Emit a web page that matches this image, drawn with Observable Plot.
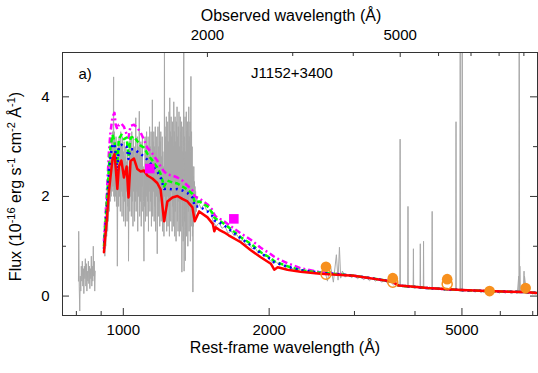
<!DOCTYPE html>
<html><head><meta charset="utf-8">
<script src="https://cdn.jsdelivr.net/npm/d3@7"></script>
<script src="https://cdn.jsdelivr.net/npm/@observablehq/plot@0.6"></script>
<style>body{margin:0;background:#fff} svg{display:block}</style>
</head><body><div id="chart"></div>
<script>
const redshift = 0.341;
const panelLabel = "a)";
const objectName = "J1152+3400";

const restMajorTicks = [1000, 2000, 5000];
const restMinorTicks = [800, 900, 3000, 4000, 6000, 7000];
const obsMajorTicks = [2000, 5000];
const obsMinorTicks = [3000, 4000, 6000, 7000, 8000, 9000];
const fluxMajorTicks = [0, 2, 4];
const fluxMinorTicks = [1, 3];

// model spectra (rest-frame wavelength grid, flux)
const modelWave = [912, 924, 934, 941, 950, 959, 964, 972, 979, 991, 1003, 1016, 1025, 1035, 1052, 1069, 1086, 1103, 1121, 1148, 1175, 1194, 1214, 1233, 1263, 1293, 1324, 1356, 1389, 1404, 1434, 1492, 1530, 1541, 1551, 1577, 1614, 1650, 1748, 1833, 1922, 2016, 2049, 2083, 2182, 2322, 2552, 2990, 3599, 3700, 3921, 4250, 4984, 5653, 6741, 7190];
const fluxRed = [0.88, 1.5, 2.1, 2.4, 2.75, 2.85, 2.6, 2.15, 2.6, 2.72, 2.38, 2.6, 1.98, 2.71, 2.76, 2.55, 2.5, 2.52, 2.42, 2.36, 2.27, 2.14, 1.5, 1.9, 1.98, 2.01, 1.95, 1.9, 1.78, 1.5, 1.7, 1.58, 1.45, 1.3, 1.38, 1.33, 1.28, 1.22, 1.08, 0.92, 0.78, 0.65, 0.53, 0.58, 0.53, 0.49, 0.45, 0.41, 0.29, 0.21, 0.19, 0.16, 0.12, 0.10, 0.08, 0.06];
const fluxGreen = [1.0, 1.85, 2.6, 3.0, 3.24, 3.1, 2.9, 2.65, 3.15, 3.24, 3.15, 3.18, 2.8, 3.18, 3.2, 3.11, 3.02, 2.98, 2.86, 2.72, 2.58, 2.45, 2.2, 2.32, 2.28, 2.26, 2.2, 2.14, 2.05, 1.88, 1.9, 1.8, 1.66, 1.58, 1.55, 1.52, 1.45, 1.38, 1.18, 1.05, 0.88, 0.76, 0.70, 0.67, 0.6, 0.52, 0.47, 0.41, 0.29, 0.21, 0.19, 0.16, 0.12, 0.10, 0.08, 0.06];
const fluxBlue = [0.95, 1.7, 2.45, 2.8, 3.05, 3.05, 2.85, 2.5, 3.0, 3.04, 3.0, 3.0, 2.75, 2.95, 2.95, 2.9, 2.85, 2.8, 2.74, 2.62, 2.5, 2.38, 2.15, 2.16, 2.14, 2.15, 2.12, 2.07, 1.98, 1.8, 1.8, 1.7, 1.6, 1.52, 1.5, 1.48, 1.42, 1.35, 1.16, 1.02, 0.86, 0.74, 0.68, 0.66, 0.59, 0.52, 0.47, 0.41, 0.29, 0.21, 0.19, 0.16, 0.12, 0.10, 0.08, 0.06];
const fluxMagenta = [1.1, 2.0, 2.9, 3.3, 3.6, 3.68, 3.45, 3.35, 3.44, 3.46, 3.4, 3.25, 3.18, 3.42, 3.44, 3.38, 3.28, 3.14, 2.98, 2.86, 2.72, 2.6, 2.5, 2.44, 2.42, 2.38, 2.32, 2.22, 2.12, 2.0, 1.96, 1.84, 1.72, 1.64, 1.6, 1.56, 1.5, 1.43, 1.26, 1.13, 0.97, 0.84, 0.79, 0.75, 0.66, 0.56, 0.48, 0.41, 0.29, 0.21, 0.19, 0.16, 0.12, 0.10, 0.08, 0.06];

// observed spectrum, far-UV piece
const spectrumFUV = [[808,0.3],[809,1.3],[811,0.2],[813,-0.3],[815,0.4],[817,0.1],[819,0.6],[821,0.3],[823,0.7],[825,0.2],[827,0.55],[829,0.05],[831,0.6],[833,0.35],[835,0.75],[837,0.2],[839,0.65],[841,0.1],[843,0.5],[845,0.3],[847,0.7],[849,0.25],[851,0.6],[853,0.15],[855,0.55],[857,0.35],[859,0.8],[861,0.2],[863,0.6],[865,0.3],[867,1.0],[869,0.4],[871,0.7],[873,0.1],[875,0.5]];
// observed spectrum, UV piece (noisy)
const spectrumUV = [
[912,0.9],[914,1.4],[916,0.8],[918,1.5],[920,1.0],[922,1.9],[924,1.2],[926,2.1],[928,1.3],[930,2.3],
[932,1.5],[934,2.6],[936,1.7],[938,2.8],[940,1.9],[942,3.0],[944,2.0],[946,3.2],[948,2.1],[950,3.3],
[952,2.2],[954,3.6],[955,4.4],[956,2.0],[958,3.3],[960,1.9],[962,3.1],[964,2.0],[966,3.2],[968,1.8],
[970,2.9],[972,0.6],[974,2.2],[976,3.1],[978,1.8],[980,3.2],[982,2.0],[984,3.0],[986,1.7],[988,3.3],
[990,2.1],[992,3.0],[994,1.6],[996,3.2],[998,2.0],[1000,2.9],[1002,1.5],[1004,3.1],[1006,1.9],[1008,2.8],
[1010,1.4],[1012,3.0],[1014,2.1],[1016,2.7],[1018,1.5],[1020,2.9],[1022,1.8],[1024,2.6],[1025,0.7],[1027,2.0],
[1029,3.1],[1031,1.7],[1033,3.2],[1035,2.0],[1037,3.0],[1039,1.6],[1041,3.3],[1043,1.9],[1045,2.9],[1047,1.4],
[1049,3.2],[1051,2.1],[1053,3.0],[1055,1.5],[1057,2.8],[1059,1.9],[1061,3.58],[1063,1.7],[1065,2.9],[1067,2.1],
[1069,3.2],[1071,1.3],[1073,3.0],[1075,2.0],[1077,2.7],[1079,3.71],[1081,1.6],[1083,2.9],[1085,1.9],[1087,3.1],
[1089,1.4],[1091,2.8],[1093,2.2],[1095,3.2],[1097,1.7],[1099,2.6],[1101,1.9],[1103,0.7],[1105,2.5],[1107,1.8],
[1109,3.2],[1111,1.5],[1113,3.0],[1115,2.0],[1117,3.3],[1119,1.6],[1121,2.9],[1123,1.9],[1125,3.2],[1127,1.3],
[1129,2.8],[1131,2.1],[1133,3.4],[1135,1.7],[1137,3.0],[1139,1.9],[1141,3.3],[1143,1.4],[1145,2.7],[1147,2.0],
[1148,3.94],[1150,1.6],[1152,3.1],[1154,2.1],[1156,3.3],[1158,1.5],[1160,3.0],[1162,1.8],[1164,3.4],[1166,1.3],
[1168,2.9],[1170,2.0],[1172,3.2],[1174,1.5],[1175,0.85],[1177,2.6],[1179,3.4],[1181,1.6],[1183,3.0],[1185,1.9],
[1187,3.5],[1189,1.4],[1191,3.1],[1193,2.0],[1195,3.3],[1197,1.5],[1199,2.8],[1201,1.8],[1203,3.2],[1205,1.3],
[1207,2.9],[1209,1.6],[1211,2.6],[1213,1.2],[1215,3.0],[1216,6.0],[1217,2.0],[1219,3.4],[1221,1.5],[1223,3.2],
[1225,1.8],[1227,3.6],[1229,1.3],[1231,3.0],[1233,2.0],[1235,3.5],[1237,1.4],[1239,3.1],[1241,1.8],[1243,3.7],
[1245,1.2],[1247,3.98],[1249,1.9],[1251,3.3],[1253,1.5],[1255,3.6],[1257,2.1],[1259,3.2],[1261,1.3],[1263,3.5],
[1265,1.8],[1267,3.0],[1269,1.4],[1271,3.9],[1273,2.0],[1275,3.3],[1277,1.2],[1279,3.6],[1281,1.7],[1283,3.1],
[1285,1.1],[1287,3.5],[1289,2.0],[1291,3.8],[1293,1.5],[1295,3.2],[1297,1.3],[1299,3.4],[1301,1.9],[1303,3.7],
[1305,1.2],[1307,3.0],[1309,1.7],[1311,3.6],[1313,1.3],[1315,3.3],[1317,1.9],[1319,3.5],[1321,0.48],[1323,2.9],
[1325,1.4],[1327,3.4],[1329,1.1],[1331,3.0],[1333,6.0],[1335,0.5],[1337,3.2],[1339,1.5],[1341,3.6],[1343,0.71],
[1345,2.9],[1347,1.6],[1349,3.7],[1351,1.2],[1353,3.3],[1355,1.8],[1357,3.5],[1359,1.0],[1361,3.1],[1363,1.7],
[1365,3.8],[1367,1.3],[1369,3.2],[1371,2.0],[1373,3.5],[1375,1.1],[1377,2.9],[1379,4.41],[1381,1.4],[1383,3.3],
[1385,1.8],[1387,3.0],[1389,1.2],[1391,2.6],[1392,0.08],[1394,2.4],[1396,1.4],[1398,2.6],[1400,1.6],[1402,2.3],
[1404,1.5],[1406,2.2],[1408,1.6],[1410,2.1],[1412,1.7],[1414,2.0],[1416,1.7],[1418,2.0],[1420,1.8],[1422,1.9]];
// observed spectrum, near-UV and optical piece
const spectrumOpt = [[1422,1.9],
[1426,1.90],[1447,1.76],[1468,1.84],[1489,1.70],[1510,1.74],[1532,1.50],[1554,1.40],[1576,1.47],[1599,1.36],[1622,1.40],[1645,1.26],[1669,1.31],[1693,1.21],[1717,1.23],[1742,1.11],[1767,1.13],[1792,1.03],[1818,1.05],[1844,0.95],[1871,0.97],[1898,0.87],[1925,0.89],[1953,0.79],[1981,0.80],[2010,0.71],[2039,0.66],[2068,0.69],[2098,0.62],[2128,0.64],[2159,0.57],[2190,0.60],[2221,0.54],[2253,0.57],[2286,0.51],[2319,0.54],[2352,0.49],[2386,0.52],[2421,0.47],[2456,0.50],[2491,0.45],[2527,0.49],[2563,0.44],[2600,0.55],[2638,0.30],[2676,0.62],[2714,0.28],[2753,0.83],[2775,0.32],[2793,0.98],[2810,0.36],[2833,0.50],[2874,0.38],[2915,0.44],[2957,0.37],[3000,0.41],[3043,0.35],[3087,0.39],[3131,0.33],[3176,0.37],[3222,0.31],[3268,0.36],[3315,0.30],[3363,0.34],[3411,0.28],[3460,0.31],[3510,0.26],[3561,0.29],[3612,0.22],[3664,0.25],[3700,0.21],[3722,0.22],[3727,3.15],[3732,0.22],[3770,0.19],[3824,0.22],[3864,0.2],[3869,1.8],[3874,0.18],[3936,0.21],[3965,0.2],[3970,0.95],[3975,0.17],[4050,0.20],[4097,0.19],[4102,1.05],[4108,0.16],[4161,0.18],[4166,1.1],[4171,0.16],[4227,0.15],[4288,0.18],[4335,0.16],[4340,1.7],[4345,0.14],[4413,0.17],[4476,0.13],[4540,0.16],[4606,0.12],[4672,0.15],[4740,0.11],[4808,0.14],[4856,0.12],[4861,3.5],[4866,0.11],[4925,0.13],[4954,0.12],[4959,8],[4964,0.11],[5002,0.12],[5007,8],[5012,0.10],[5097,0.13],[5171,0.09],[5246,0.12],[5322,0.08],[5399,0.11],[5477,0.07],[5556,0.11],[5636,0.08],[5718,0.10],[5801,0.07],[5885,0.10],[5970,0.06],[6056,0.09],[6144,0.06],[6233,0.09],[6323,0.05],[6415,0.08],[6508,0.06],[6548,0.4],[6555,0.1],[6563,8],[6575,0.1],[6584,0.6],[6602,0.06],[6698,0.09],[6717,0.5],[6724,0.08],[6731,0.4],[6795,0.05],[6893,0.08],[6993,0.04],[7094,0.07],[7150,0.05]];

// photometry
const photWave = [2620, 3599, 4661, 5702, 6767];
const photFlux = [0.59, 0.36, 0.34, 0.10, 0.16];
const photOpenWave = [2620, 3599, 4661];
const photOpenFlux = [0.44, 0.28, 0.24];
const uvWave = [1134, 1691];
const uvFlux = [2.56, 1.55];

const W = 538, H = 373, ML = 62, MR = 1, MT = 52, MB = 58;
const PW = W - ML - MR, PH = H - MT - MB;
const FONT = "'Liberation Sans', Arial, Helvetica, sans-serif";

const model = (f) => modelWave.map((w, i) => ({w, f: f[i]}));
const pts = (ws, fs) => ws.map((w, i) => ({w, f: fs[i]}));
const orange = "#f7901e";
const gray = "#a8a8a8";
const lineOpts = {x: "w", y: "f", strokeWidth: 2.5, strokeLinecap: "butt", strokeLinejoin: "round", clip: true};
const specOpts = {x: d => d[0], y: d => d[1], stroke: gray, strokeWidth: 1, clip: true};
const txt = {lineAnchor: "middle", text: d => String(d)};

const chart = Plot.plot({
  width: W, height: H,
  marginLeft: ML, marginRight: MR, marginTop: MT, marginBottom: MB,
  style: {fontFamily: FONT, fontSize: "15px", background: "#fff", color: "#000", overflow: "visible"},
  x: {type: "log", domain: [749, 7160], axis: null},
  y: {domain: [-0.39, 4.89], axis: null},
  marks: [
    Plot.line(spectrumFUV, specOpts),
    Plot.line(spectrumUV, specOpts),
    Plot.line(spectrumOpt, specOpts),
    Plot.line(model(fluxMagenta), {...lineOpts, stroke: "#ff00ff", strokeDasharray: "6,3,2,3"}),
    Plot.line(model(fluxGreen), {...lineOpts, stroke: "#00ff00", strokeDasharray: "5,3"}),
    Plot.line(model(fluxBlue), {...lineOpts, stroke: "#0000ff", strokeDasharray: "2,4"}),
    Plot.line(model(fluxRed), {...lineOpts, stroke: "#ff0000", strokeLinecap: "round"}),
    Plot.dot(pts(uvWave, uvFlux), {x: "w", y: "f", symbol: "square", r: 5.4, fill: "#ff00ff", stroke: "none"}),
    Plot.dot(pts(photOpenWave, photOpenFlux), {x: "w", y: "f", r: 5, fill: "none", stroke: orange, strokeWidth: 1.5}),
    Plot.dot(pts(photWave, photFlux), {x: "w", y: "f", r: 5.3, fill: orange, stroke: "none"}),
    Plot.frame({stroke: "#333"}),
    // bottom ticks (inward)
    Plot.ruleX(restMajorTicks, {x: d => d, stroke: "#333", insetTop: PH - 7}),
    Plot.ruleX(restMinorTicks, {x: d => d, stroke: "#333", insetTop: PH - 4}),
    // top ticks (observed wavelength)
    Plot.ruleX(obsMajorTicks, {x: d => d / (1 + redshift), stroke: "#333", insetBottom: PH - 5}),
    Plot.ruleX(obsMinorTicks, {x: d => d / (1 + redshift), stroke: "#333", insetBottom: PH - 4}),
    // left/right ticks
    Plot.ruleY(fluxMajorTicks, {y: d => d, stroke: "#333", insetRight: PW - 7}),
    Plot.ruleY(fluxMinorTicks, {y: d => d, stroke: "#333", insetRight: PW - 4}),
    Plot.ruleY(fluxMajorTicks, {y: d => d, stroke: "#333", insetLeft: PW - 7}),
    Plot.ruleY(fluxMinorTicks, {y: d => d, stroke: "#333", insetLeft: PW - 4}),
    // tick labels
    Plot.text(restMajorTicks, {...txt, x: d => d, frameAnchor: "bottom", dy: 15, fontSize: 15}),
    Plot.text(obsMajorTicks, {...txt, x: d => d / (1 + redshift), frameAnchor: "top", dy: -17, fontSize: 15}),
    Plot.text(fluxMajorTicks, {...txt, y: d => d, frameAnchor: "left", dx: -13, textAnchor: "end", fontSize: 15}),
    // axis titles & annotations
    Plot.text(["Rest-frame wavelength (Å)"], {...txt, frameAnchor: "bottom", dx: -15, dy: 32, fontSize: 16}),
    Plot.text(["Observed wavelength (Å)"], {...txt, frameAnchor: "top", dx: -9, dy: -37, fontSize: 16}),
    Plot.text([panelLabel], {...txt, frameAnchor: "top-left", dx: 16, dy: 22, textAnchor: "start", fontSize: 15}),
    Plot.text([objectName], {...txt, frameAnchor: "top", dx: -8, dy: 21, fontSize: 15})
  ]
});

// y-axis title with superscripts
const svg = d3.select(chart);
const t = svg.append("text")
  .attr("transform", `translate(21,${MT + PH / 2 + 3}) rotate(-90)`)
  .attr("text-anchor", "middle")
  .attr("font-family", FONT)
  .attr("font-size", 16)
  .attr("fill", "#000");
const parts = [["Flux (10", 0], ["-16", 1], [" erg s", 0], ["-1", 1], [" cm", 0], ["-2", 1], [" Å", 0], ["-1", 1], [")", 0]];
let raised = false;
for (const [s, sup] of parts) {
  const ts = t.append("tspan").text(s);
  if (sup && !raised) { ts.attr("dy", -6).attr("font-size", 11); raised = true; }
  else if (sup) { ts.attr("font-size", 11); }
  else if (!sup && raised) { ts.attr("dy", 6); raised = false; }
}

document.getElementById("chart").appendChild(chart);
</script></body></html>
